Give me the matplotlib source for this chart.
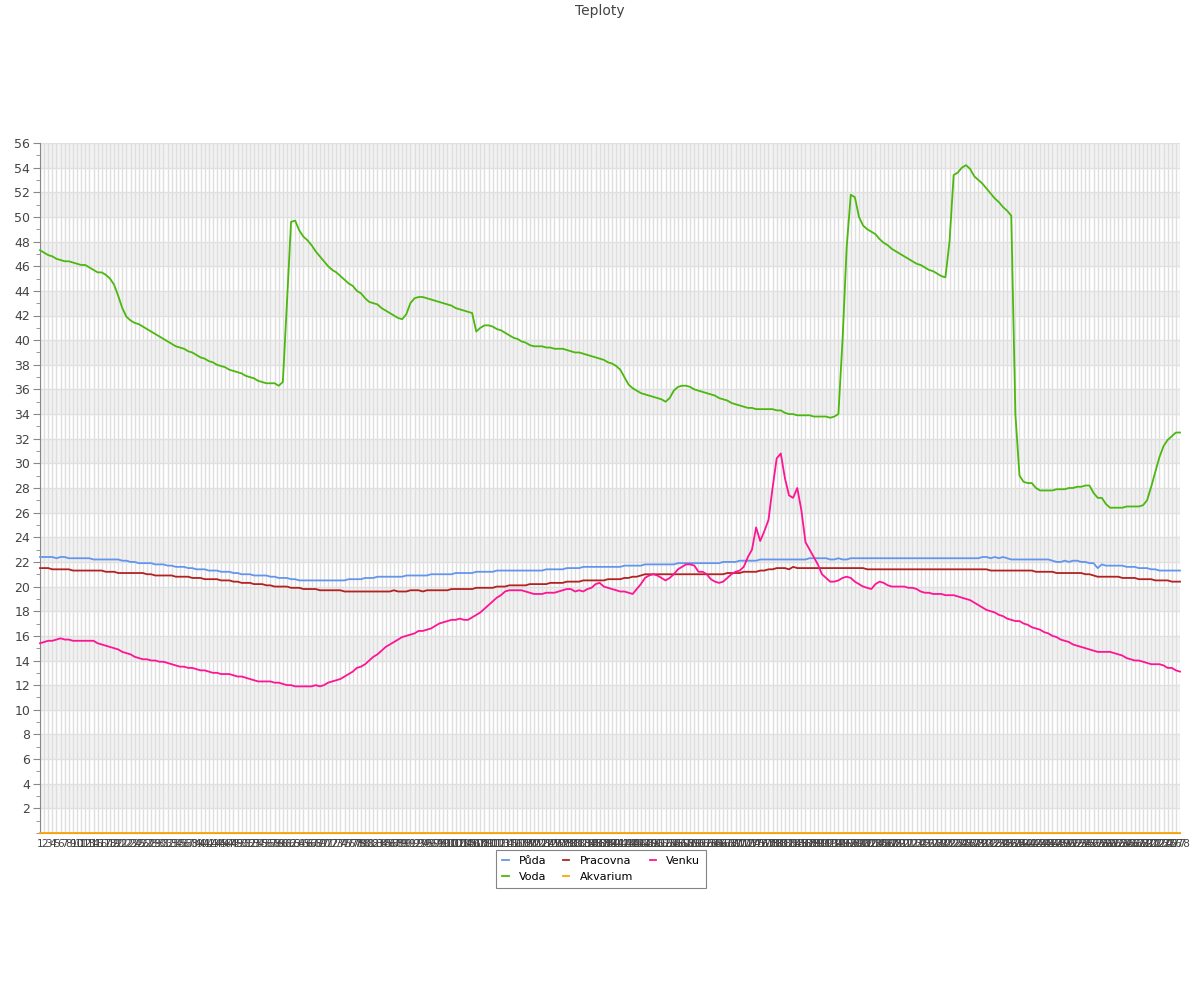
import matplotlib
matplotlib.use("Agg")
import matplotlib.pyplot as plt
from matplotlib.ticker import MultipleLocator

# x categories: sample numbers 1..278
labels = [str(n) for n in range(1, 279)]

puda = [
    22.4, 22.4, 22.4, 22.4, 22.3, 22.4, 22.4, 22.3, 22.3, 22.3,
    22.3, 22.3, 22.3, 22.2, 22.2, 22.2, 22.2, 22.2, 22.2, 22.2,
    22.1, 22.1, 22.0, 22.0, 21.9, 21.9, 21.9, 21.9, 21.8, 21.8,
    21.8, 21.7, 21.7, 21.6, 21.6, 21.6, 21.5, 21.5, 21.4, 21.4,
    21.4, 21.3, 21.3, 21.3, 21.2, 21.2, 21.2, 21.1, 21.1, 21.0,
    21.0, 21.0, 20.9, 20.9, 20.9, 20.9, 20.8, 20.8, 20.7, 20.7,
    20.7, 20.6, 20.6, 20.5, 20.5, 20.5, 20.5, 20.5, 20.5, 20.5,
    20.5, 20.5, 20.5, 20.5, 20.5, 20.6, 20.6, 20.6, 20.6, 20.7,
    20.7, 20.7, 20.8, 20.8, 20.8, 20.8, 20.8, 20.8, 20.8, 20.9,
    20.9, 20.9, 20.9, 20.9, 20.9, 21.0, 21.0, 21.0, 21.0, 21.0,
    21.0, 21.1, 21.1, 21.1, 21.1, 21.1, 21.2, 21.2, 21.2, 21.2,
    21.2, 21.3, 21.3, 21.3, 21.3, 21.3, 21.3, 21.3, 21.3, 21.3,
    21.3, 21.3, 21.3, 21.4, 21.4, 21.4, 21.4, 21.4, 21.5, 21.5,
    21.5, 21.5, 21.6, 21.6, 21.6, 21.6, 21.6, 21.6, 21.6, 21.6,
    21.6, 21.6, 21.7, 21.7, 21.7, 21.7, 21.7, 21.8, 21.8, 21.8,
    21.8, 21.8, 21.8, 21.8, 21.8, 21.9, 21.9, 21.9, 21.9, 21.9,
    21.9, 21.9, 21.9, 21.9, 21.9, 21.9, 22.0, 22.0, 22.0, 22.0,
    22.1, 22.1, 22.1, 22.1, 22.1, 22.2, 22.2, 22.2, 22.2, 22.2,
    22.2, 22.2, 22.2, 22.2, 22.2, 22.2, 22.2, 22.3, 22.3, 22.3,
    22.3, 22.3, 22.2, 22.2, 22.3, 22.2, 22.2, 22.3, 22.3, 22.3,
    22.3, 22.3, 22.3, 22.3, 22.3, 22.3, 22.3, 22.3, 22.3, 22.3,
    22.3, 22.3, 22.3, 22.3, 22.3, 22.3, 22.3, 22.3, 22.3, 22.3,
    22.3, 22.3, 22.3, 22.3, 22.3, 22.3, 22.3, 22.3, 22.3, 22.4,
    22.4, 22.3, 22.4, 22.3, 22.4, 22.3, 22.2, 22.2, 22.2, 22.2,
    22.2, 22.2, 22.2, 22.2, 22.2, 22.2, 22.1, 22.0, 22.0, 22.1,
    22.0, 22.1, 22.1, 22.0, 22.0, 21.9, 21.9, 21.5, 21.8, 21.7,
    21.7, 21.7, 21.7, 21.7, 21.6, 21.6, 21.6, 21.5, 21.5, 21.5,
    21.4, 21.4, 21.3, 21.3, 21.3, 21.3, 21.3, 21.3,
]

voda = [
    47.3, 47.1, 46.9, 46.8, 46.6, 46.5, 46.4, 46.4, 46.3, 46.2,
    46.1, 46.1, 45.9, 45.7, 45.5, 45.5, 45.3, 45.0, 44.5, 43.6,
    42.6, 41.9, 41.6, 41.4, 41.3, 41.1, 40.9, 40.7, 40.5, 40.3,
    40.1, 39.9, 39.7, 39.5, 39.4, 39.3, 39.1, 39.0, 38.8, 38.6,
    38.5, 38.3, 38.2, 38.0, 37.9, 37.8, 37.6, 37.5, 37.4, 37.3,
    37.1, 37.0, 36.9, 36.7, 36.6, 36.5, 36.5, 36.5, 36.3, 36.6,
    43.0, 49.6, 49.7, 48.9, 48.4, 48.1, 47.7, 47.2, 46.8, 46.4,
    46.0, 45.7, 45.5, 45.2, 44.9, 44.6, 44.4, 44.0, 43.8, 43.4,
    43.1, 43.0, 42.9, 42.6, 42.4, 42.2, 42.0, 41.8, 41.7, 42.1,
    43.0, 43.4, 43.5, 43.5, 43.4, 43.3, 43.2, 43.1, 43.0, 42.9,
    42.8, 42.6, 42.5, 42.4, 42.3, 42.2, 40.7, 41.0, 41.2, 41.2,
    41.1, 40.9, 40.8, 40.6, 40.4, 40.2, 40.1, 39.9, 39.8, 39.6,
    39.5, 39.5, 39.5, 39.4, 39.4, 39.3, 39.3, 39.3, 39.2, 39.1,
    39.0, 39.0, 38.9, 38.8, 38.7, 38.6, 38.5, 38.4, 38.2, 38.1,
    37.9, 37.6, 37.0, 36.4, 36.1, 35.9, 35.7, 35.6, 35.5, 35.4,
    35.3, 35.2, 35.0, 35.3, 35.9, 36.2, 36.3, 36.3, 36.2, 36.0,
    35.9, 35.8, 35.7, 35.6, 35.5, 35.3, 35.2, 35.1, 34.9, 34.8,
    34.7, 34.6, 34.5, 34.5, 34.4, 34.4, 34.4, 34.4, 34.4, 34.3,
    34.3, 34.1, 34.0, 34.0, 33.9, 33.9, 33.9, 33.9, 33.8, 33.8,
    33.8, 33.8, 33.7, 33.8, 34.0, 40.0, 47.5, 51.8, 51.6, 50.0,
    49.3, 49.0, 48.8, 48.6, 48.2, 47.9, 47.7, 47.4, 47.2, 47.0,
    46.8, 46.6, 46.4, 46.2, 46.1, 45.9, 45.7, 45.6, 45.4, 45.2,
    45.1, 48.0, 53.4, 53.6, 54.0, 54.2, 53.9, 53.3, 53.0, 52.7,
    52.3, 51.9, 51.5, 51.2, 50.8, 50.5, 50.1, 34.0, 29.0, 28.5,
    28.4, 28.4, 28.0, 27.8, 27.8, 27.8, 27.8, 27.9, 27.9, 27.9,
    28.0, 28.0, 28.1, 28.1, 28.2, 28.2, 27.6, 27.2, 27.2, 26.7,
    26.4, 26.4, 26.4, 26.4, 26.5, 26.5, 26.5, 26.5, 26.6, 27.0,
    28.1, 29.3, 30.5, 31.4, 31.9, 32.2, 32.5, 32.5,
]

pracovna = [
    21.5, 21.5, 21.5, 21.4, 21.4, 21.4, 21.4, 21.4, 21.3, 21.3,
    21.3, 21.3, 21.3, 21.3, 21.3, 21.3, 21.2, 21.2, 21.2, 21.1,
    21.1, 21.1, 21.1, 21.1, 21.1, 21.1, 21.0, 21.0, 20.9, 20.9,
    20.9, 20.9, 20.9, 20.8, 20.8, 20.8, 20.8, 20.7, 20.7, 20.7,
    20.6, 20.6, 20.6, 20.6, 20.5, 20.5, 20.5, 20.4, 20.4, 20.3,
    20.3, 20.3, 20.2, 20.2, 20.2, 20.1, 20.1, 20.0, 20.0, 20.0,
    20.0, 19.9, 19.9, 19.9, 19.8, 19.8, 19.8, 19.8, 19.7, 19.7,
    19.7, 19.7, 19.7, 19.7, 19.6, 19.6, 19.6, 19.6, 19.6, 19.6,
    19.6, 19.6, 19.6, 19.6, 19.6, 19.6, 19.7, 19.6, 19.6, 19.6,
    19.7, 19.7, 19.7, 19.6, 19.7, 19.7, 19.7, 19.7, 19.7, 19.7,
    19.8, 19.8, 19.8, 19.8, 19.8, 19.8, 19.9, 19.9, 19.9, 19.9,
    19.9, 20.0, 20.0, 20.0, 20.1, 20.1, 20.1, 20.1, 20.1, 20.2,
    20.2, 20.2, 20.2, 20.2, 20.3, 20.3, 20.3, 20.3, 20.4, 20.4,
    20.4, 20.4, 20.5, 20.5, 20.5, 20.5, 20.5, 20.5, 20.6, 20.6,
    20.6, 20.6, 20.7, 20.7, 20.8, 20.8, 20.9, 21.0, 21.0, 21.0,
    21.0, 21.0, 21.0, 21.0, 21.0, 21.0, 21.0, 21.0, 21.0, 21.0,
    21.0, 21.0, 21.0, 21.0, 21.0, 21.0, 21.0, 21.1, 21.1, 21.1,
    21.1, 21.2, 21.2, 21.2, 21.2, 21.3, 21.3, 21.4, 21.4, 21.5,
    21.5, 21.5, 21.4, 21.6, 21.5, 21.5, 21.5, 21.5, 21.5, 21.5,
    21.5, 21.5, 21.5, 21.5, 21.5, 21.5, 21.5, 21.5, 21.5, 21.5,
    21.5, 21.4, 21.4, 21.4, 21.4, 21.4, 21.4, 21.4, 21.4, 21.4,
    21.4, 21.4, 21.4, 21.4, 21.4, 21.4, 21.4, 21.4, 21.4, 21.4,
    21.4, 21.4, 21.4, 21.4, 21.4, 21.4, 21.4, 21.4, 21.4, 21.4,
    21.4, 21.3, 21.3, 21.3, 21.3, 21.3, 21.3, 21.3, 21.3, 21.3,
    21.3, 21.3, 21.2, 21.2, 21.2, 21.2, 21.2, 21.1, 21.1, 21.1,
    21.1, 21.1, 21.1, 21.1, 21.0, 21.0, 20.9, 20.8, 20.8, 20.8,
    20.8, 20.8, 20.8, 20.7, 20.7, 20.7, 20.7, 20.6, 20.6, 20.6,
    20.6, 20.5, 20.5, 20.5, 20.5, 20.4, 20.4, 20.4,
]

akvarium = [0.0] * 278

venku = [
    15.4, 15.5, 15.6, 15.6, 15.7, 15.8, 15.7, 15.7, 15.6, 15.6,
    15.6, 15.6, 15.6, 15.6, 15.4, 15.3, 15.2, 15.1, 15.0, 14.9,
    14.7, 14.6, 14.5, 14.3, 14.2, 14.1, 14.1, 14.0, 14.0, 13.9,
    13.9, 13.8, 13.7, 13.6, 13.5, 13.5, 13.4, 13.4, 13.3, 13.2,
    13.2, 13.1, 13.0, 13.0, 12.9, 12.9, 12.9, 12.8, 12.7, 12.7,
    12.6, 12.5, 12.4, 12.3, 12.3, 12.3, 12.3, 12.2, 12.2, 12.1,
    12.0, 12.0, 11.9, 11.9, 11.9, 11.9, 11.9, 12.0, 11.9, 12.0,
    12.2, 12.3, 12.4, 12.5, 12.7, 12.9, 13.1, 13.4, 13.5, 13.7,
    14.0, 14.3, 14.5, 14.8, 15.1, 15.3, 15.5, 15.7, 15.9, 16.0,
    16.1, 16.2, 16.4, 16.4, 16.5, 16.6, 16.8, 17.0, 17.1, 17.2,
    17.3, 17.3, 17.4, 17.3, 17.3, 17.5, 17.7, 17.9, 18.2, 18.5,
    18.8, 19.1, 19.3, 19.6, 19.7, 19.7, 19.7, 19.7, 19.6, 19.5,
    19.4, 19.4, 19.4, 19.5, 19.5, 19.5, 19.6, 19.7, 19.8, 19.8,
    19.6, 19.7, 19.6, 19.8, 19.9, 20.2, 20.3, 20.0, 19.9, 19.8,
    19.7, 19.6, 19.6, 19.5, 19.4, 19.8, 20.2, 20.7, 20.9, 21.0,
    20.9, 20.7, 20.5, 20.7, 21.0, 21.4, 21.6, 21.8, 21.8, 21.7,
    21.2, 21.2, 21.0, 20.6, 20.4, 20.3, 20.4, 20.7, 21.0, 21.2,
    21.3, 21.6, 22.4, 23.0, 24.8, 23.7, 24.5, 25.4, 28.0, 30.4,
    30.8, 28.8, 27.4, 27.2, 28.0, 26.2, 23.6, 23.0, 22.4, 21.8,
    21.0, 20.7, 20.4, 20.4, 20.5, 20.7, 20.8, 20.7, 20.4, 20.2,
    20.0, 19.9, 19.8, 20.2, 20.4, 20.3, 20.1, 20.0, 20.0, 20.0,
    20.0, 19.9, 19.9, 19.8, 19.6, 19.5, 19.5, 19.4, 19.4, 19.4,
    19.3, 19.3, 19.3, 19.2, 19.1, 19.0, 18.9, 18.7, 18.5, 18.3,
    18.1, 18.0, 17.9, 17.7, 17.6, 17.4, 17.3, 17.2, 17.2, 17.0,
    16.9, 16.7, 16.6, 16.5, 16.3, 16.2, 16.0, 15.9, 15.7, 15.6,
    15.5, 15.3, 15.2, 15.1, 15.0, 14.9, 14.8, 14.7, 14.7, 14.7,
    14.7, 14.6, 14.5, 14.4, 14.2, 14.1, 14.0, 14.0, 13.9, 13.8,
    13.7, 13.7, 13.7, 13.6, 13.4, 13.4, 13.2, 13.1,
]

series = [
    ("Půda", puda, "#6495ed"),
    ("Voda", voda, "#4cb80f"),
    ("Pracovna", pracovna, "#b22222"),
    ("Akvarium", akvarium, "#ffa500"),
    ("Venku", venku, "#ff1493"),
]

text_color = "#444444"

fig = plt.figure(figsize=(12, 10), dpi=100)
ax = fig.add_axes([40 / 1200, 1 - 833 / 1000, 1140 / 1200, 690 / 1000])

xs = list(range(len(labels)))

# alternating horizontal bands
for lo in range(2, 56, 4):
    ax.axhspan(lo, lo + 2, color="#f2f2f2", zorder=0, lw=0)

ax.set_xlim(0, len(labels) - 1)
ax.set_ylim(0, 56)

ax.set_xticks(xs)
ax.set_xticklabels(labels, fontsize=7.5, color=text_color)
ax.tick_params(axis="x", length=0, pad=4)

ax.yaxis.set_major_locator(MultipleLocator(2))
ax.yaxis.set_minor_locator(MultipleLocator(1))
ax.set_yticks(range(2, 57, 2))
ax.tick_params(axis="y", which="major", length=5, color="#888888", labelsize=9,
               labelcolor=text_color, pad=2)
ax.tick_params(axis="y", which="minor", length=3, color="#888888")

ax.grid(axis="x", color="#dedede", lw=1.0, zorder=1)
ax.grid(axis="y", which="major", color="#e0e0e0", lw=1.0, zorder=1)
ax.set_axisbelow(True)

for name in ("top", "right"):
    ax.spines[name].set_visible(False)
ax.spines["left"].set_color("#888888")
ax.spines["bottom"].set_color("#888888")

for name, vals, color in series:
    ax.plot(xs, vals, color=color, lw=1.3, label=name, clip_on=False, zorder=3)

leg = ax.legend(loc="upper center", bbox_to_anchor=((601 - 40) / 1140, -17 / 690),
                ncol=3, fontsize=8, frameon=True, fancybox=False,
                handlelength=0.6, handletextpad=0.9, columnspacing=1.5,
                borderpad=0.55, labelspacing=0.5, borderaxespad=0)
leg.get_frame().set_edgecolor("#666666")
leg.get_frame().set_linewidth(0.8)

fig.text(0.5, 1 - 11 / 1000, "Teploty", ha="center", va="center",
         fontsize=10, color=text_color)

fig.savefig("out.png", dpi=100)
